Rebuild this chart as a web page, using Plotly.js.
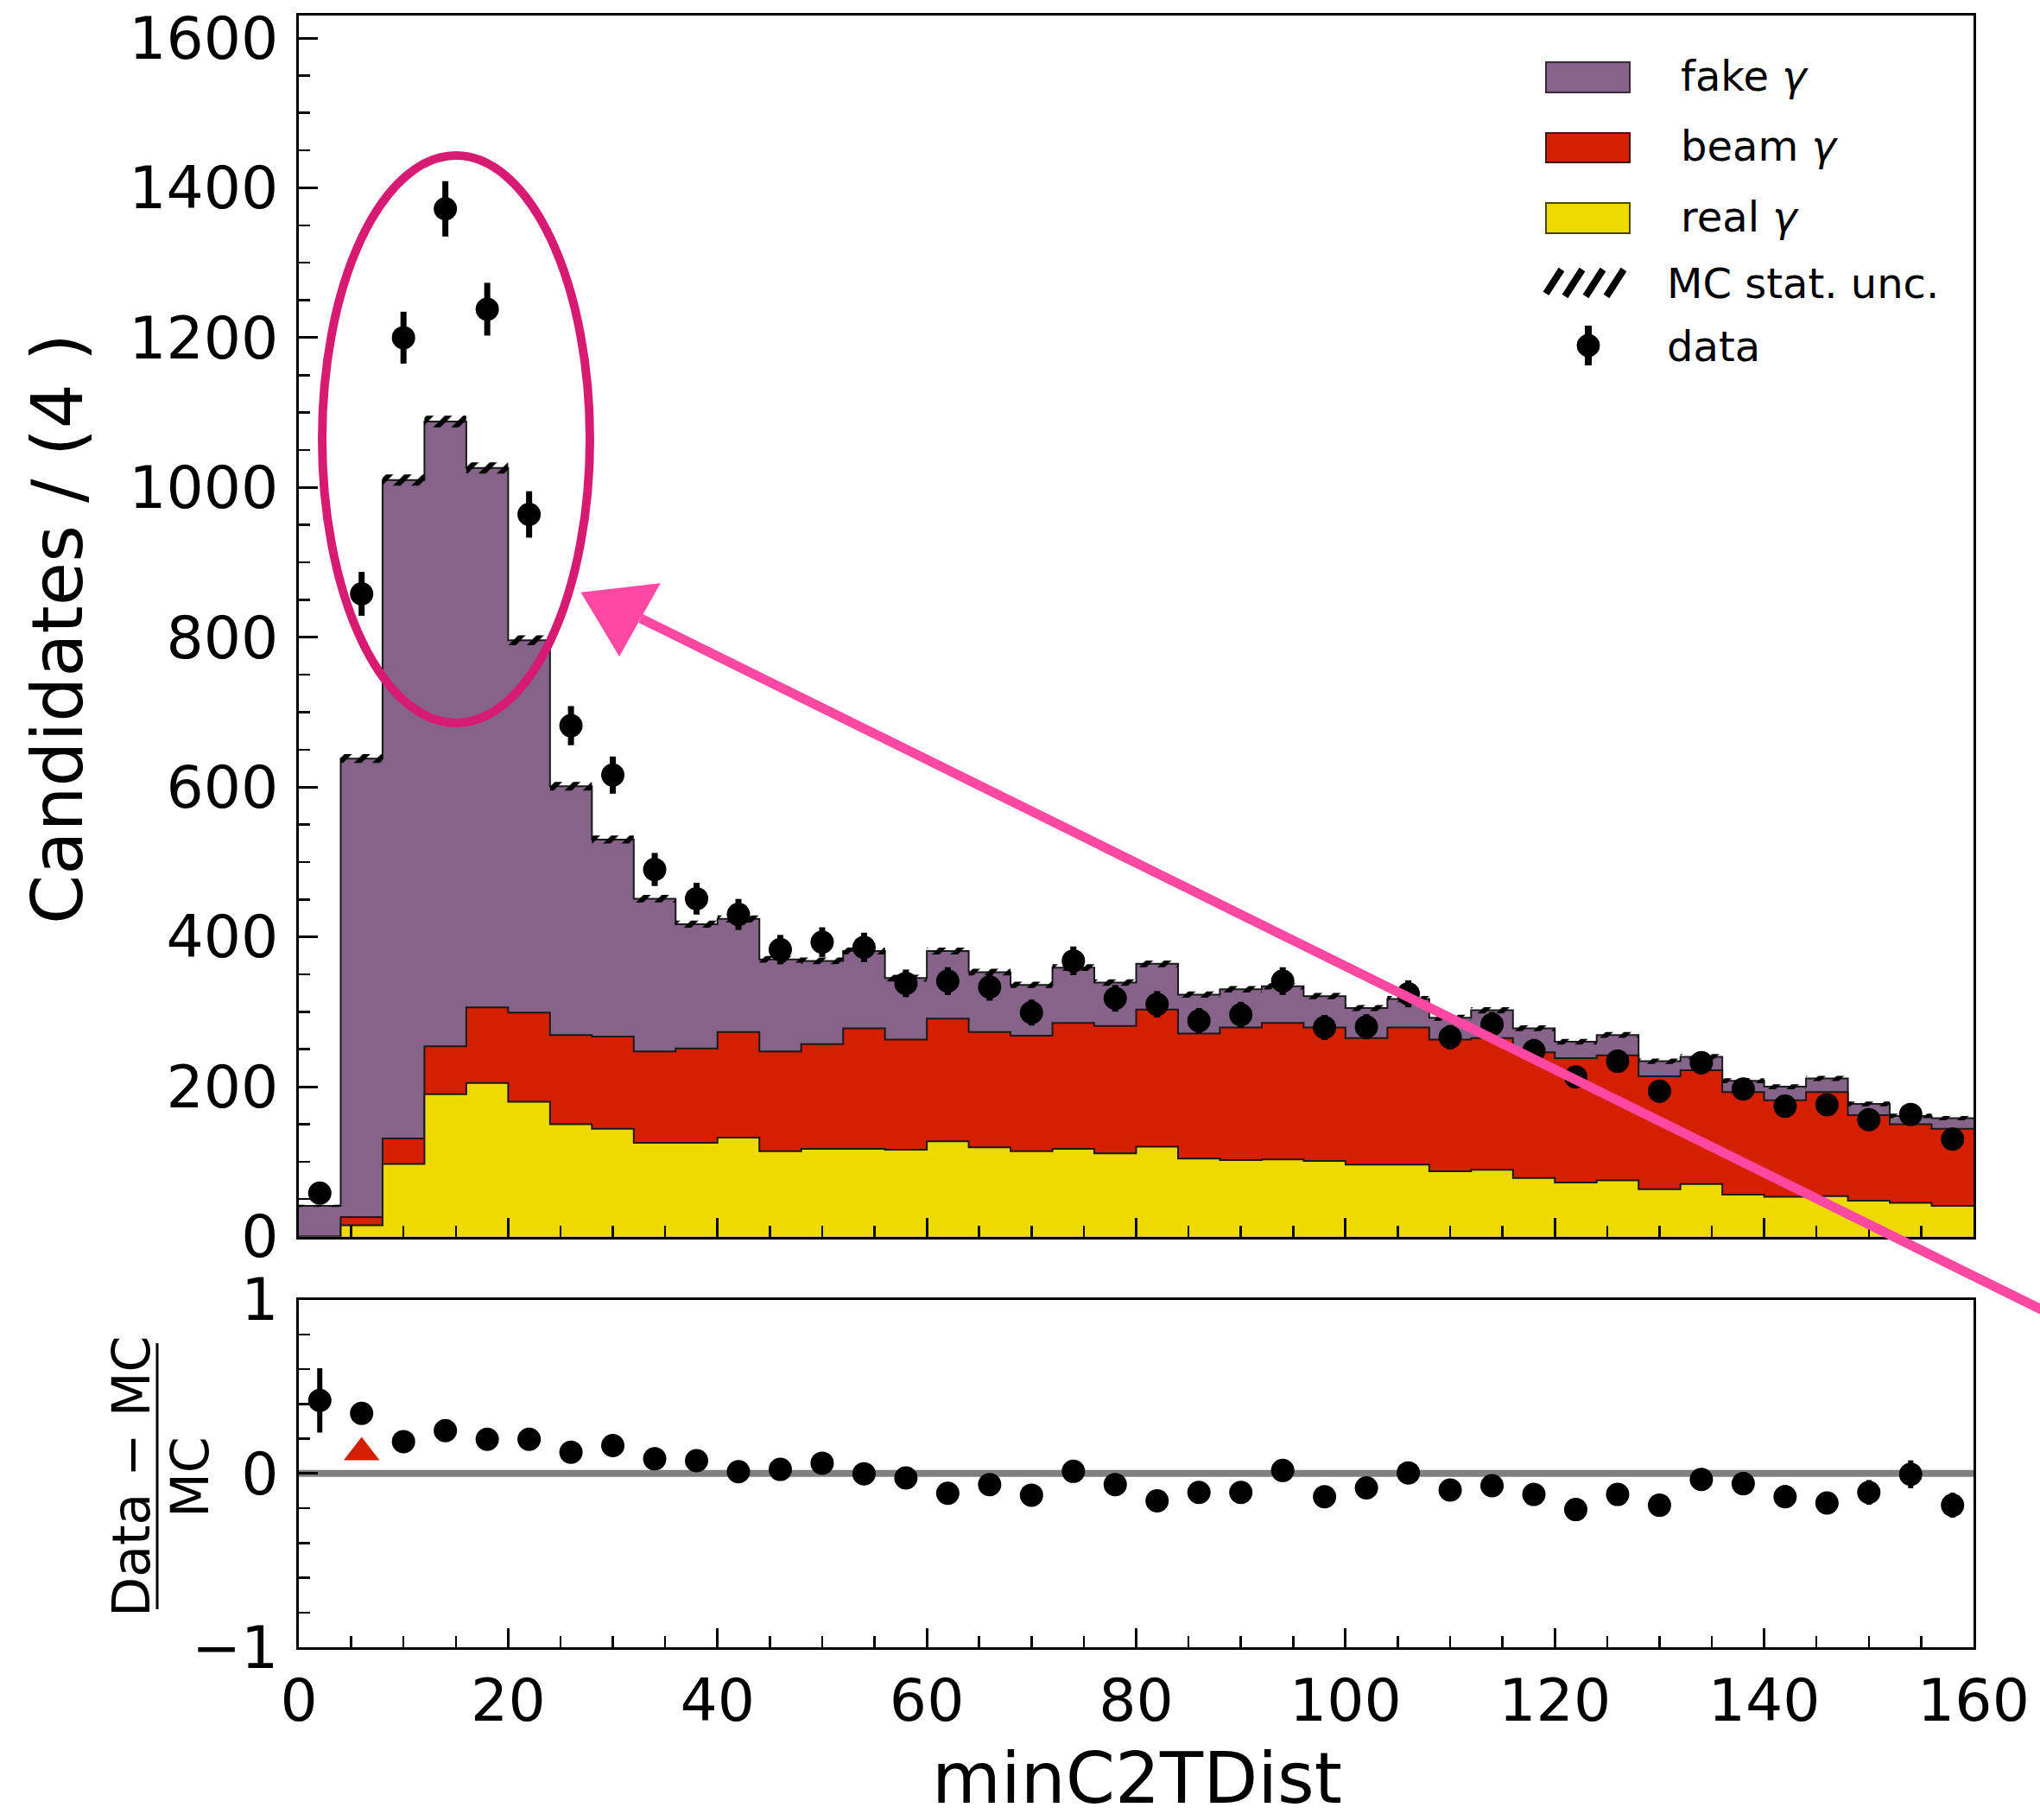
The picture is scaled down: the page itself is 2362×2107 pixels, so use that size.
<!DOCTYPE html>
<html><head><meta charset="utf-8">
<script src="https://cdn.plot.ly/plotly-3.0.1.min.js"></script>
<style>html,body{margin:0;padding:0;background:#fff}#chart{width:2362px;height:2107px}</style>
</head><body><div id="chart"></div>
<script>
// ---------------- data ----------------
const binEdges = [0,4,8,12,16,20,24,28,32,36,40,44,48,52,56,60,64,68,72,76,80,84,88,92,96,100,104,108,112,116,120,124,128,132,136,140,144,148,152,156,160];
const binCenters = [2,6,10,14,18,22,26,30,34,38,42,46,50,54,58,62,66,70,74,78,82,86,90,94,98,102,106,110,114,118,122,126,130,134,138,142,146,150,154,158];
const realGamma = [0,15,97,190,205,180,150,144,125,125,132,114,117,117,116,127,119,114,117,111,120,104,102,103,101,96,96,87,89,78,72,75,63,70,56,53,54,48,45,41];
const beamGamma = [0,11,34,64,101,119,119,123,122,126,141,133,140,161,147,164,154,154,168,170,183,167,177,182,178,169,183,176,176,168,166,167,151,152,137,129,139,114,105,103];
const fakeGamma = [41,612,879,834,720,497,332,263,204,166,151,123,111,103,82,90,80,68,74,58,61,52,51,49,42,40,38,29,37,32,22,27,20,18,15,18,18,15,11,14];
const mcStatErr = [1.5,5.9,7.5,7.8,7.5,6.6,5.8,5.4,5.0,4.8,4.8,4.5,4.5,4.6,4.4,4.6,4.4,4.3,4.5,4.3,4.5,4.2,4.3,4.3,4.2,4.1,4.2,4.0,4.1,3.9,3.8,3.9,3.6,3.6,3.4,3.3,3.4,3.1,3.0,3.0];
const dataCounts = [58,858,1200,1372,1238,964,682,616,490,451,430,383,393,386,338,341,333,299,368,318,310,288,296,341,279,280,324,266,283,248,213,234,194,232,197,174,176,156,163,130];
const dataErr = [7.6,29.3,34.6,37.0,35.2,31.0,26.1,24.8,22.1,21.2,20.7,19.6,19.8,19.6,18.4,18.5,18.2,17.3,19.2,17.8,17.6,17.0,17.2,18.5,16.7,16.7,18.0,16.3,16.8,15.7,14.6,15.3,13.9,15.2,14.0,13.2,13.3,12.5,12.8,11.4];
const ratioVals = [0.42,0.345,0.183,0.246,0.196,0.196,0.122,0.160,0.084,0.073,0.010,0.023,0.059,-0.002,-0.026,-0.114,-0.064,-0.125,0.012,-0.064,-0.158,-0.109,-0.109,0.017,-0.134,-0.083,0.003,-0.096,-0.071,-0.121,-0.208,-0.121,-0.183,-0.035,-0.059,-0.134,-0.170,-0.109,-0.005,-0.183];
const ratioErr = [0.185,0.046,0.034,0.034,0.034,0.039,0.043,0.047,0.049,0.051,0.049,0.053,0.054,0.051,0.053,0.049,0.052,0.051,0.053,0.053,0.048,0.053,0.052,0.055,0.052,0.055,0.057,0.056,0.056,0.056,0.056,0.057,0.059,0.063,0.067,0.066,0.063,0.071,0.080,0.072];
const markerX = [6];
const markerY = [0.12];
const xTickVals = [0,20,40,60,80,100,120,140,160];
const yTickVals = [0,200,400,600,800,1000,1200,1400,1600];
const ratioTickVals = [-1,0,1];
const ratioTickText = ['\u22121','0','1'];
const legendLabels = ['fake <i>\u03b3</i>','beam <i>\u03b3</i>','real <i>\u03b3</i>','MC stat. unc.','data'];

// ---------------- derived stacks ----------------
const realTop = realGamma.slice();
const beamTop = realGamma.map((v,i)=>v+beamGamma[i]);
const totalTop = beamTop.map((v,i)=>v+fakeGamma[i]);
const bandLo = totalTop.map((v,i)=>v-mcStatErr[i]);
const bandHi = totalTop.map((v,i)=>v+mcStatErr[i]);
const stepY = a => a.concat([a[a.length-1]]);

// ---------------- style ----------------
const FONT = 'DejaVu Sans, Liberation Sans, sans-serif';
const C_FAKE = '#866489', C_BEAM = '#d41f00', C_REAL = '#eed900';
const W = 2362, H = 2107, ML = 346, MR = 77, MT = 18, MB = 200;
const PW = W-ML-MR, PH = H-MT-MB;
const px = x => (x-ML)/PW;
const py = y => (H-MB-y)/PH;

function stepTrace(y, color){
  return {type:'scatter', mode:'lines', x:binEdges, y:stepY(y), xaxis:'x', yaxis:'y',
    line:{shape:'hv', color:'#1a1a1a', width:2}, fill:'tozeroy', fillcolor:color,
    hoverinfo:'skip', showlegend:false};
}

const traces = [
  stepTrace(totalTop, C_FAKE),
  stepTrace(beamTop, C_BEAM),
  stepTrace(realTop, C_REAL),
  {type:'scatter', mode:'lines', x:binEdges, y:stepY(bandLo), xaxis:'x', yaxis:'y',
   line:{shape:'hv', width:0}, hoverinfo:'skip', showlegend:false},
  {type:'scatter', mode:'lines', x:binEdges, y:stepY(bandHi), xaxis:'x', yaxis:'y',
   line:{shape:'hv', width:0}, fill:'tonexty', fillcolor:'rgba(0,0,0,0)',
   fillpattern:{shape:'/', fgcolor:'#000', bgcolor:'rgba(0,0,0,0)', size:15, solidity:0.4},
   hoverinfo:'skip', showlegend:false},
  {type:'scatter', mode:'markers', x:binCenters, y:dataCounts, xaxis:'x', yaxis:'y',
   marker:{color:'#000', size:27},
   error_y:{type:'data', array:dataErr, visible:true, color:'#000', thickness:7, width:0},
   showlegend:false},
  {type:'scatter', mode:'markers', x:binCenters, y:ratioVals, xaxis:'x2', yaxis:'y2',
   marker:{color:'#000', size:27},
   error_y:{type:'data', array:ratioErr, visible:true, color:'#000', thickness:6, width:0},
   showlegend:false},
  {type:'scatter', mode:'markers', x:markerX, y:markerY, xaxis:'x2', yaxis:'y2',
   marker:{color:'#d52000', size:36, symbol:'triangle-up'}, showlegend:false}
];

const axBase = {showline:true, linewidth:3, linecolor:'#000', mirror:true, showgrid:false, zeroline:false,
  ticks:'inside', ticklen:22, tickwidth:3, tickcolor:'#000',
  tickfont:{family:FONT, size:68, color:'#000'}};

const shapes = [
  {type:'line', xref:'x2', yref:'y2', x0:0, x1:160, y0:0, y1:0, line:{color:'#808080', width:8}, layer:'below'},
  // fraction bar of the ratio axis title
  {type:'line', xref:'paper', yref:'paper', x0:px(182), x1:px(182), y0:py(1555), y1:py(1863), line:{color:'#000', width:3}},
  // legend patches
  {type:'rect', xref:'paper', yref:'paper', x0:px(1790), x1:px(1887), y0:py(72), y1:py(107), fillcolor:C_FAKE, line:{color:'#3a2a3a', width:2}},
  {type:'rect', xref:'paper', yref:'paper', x0:px(1790), x1:px(1887), y0:py(154), y1:py(188), fillcolor:C_BEAM, line:{color:'#3a1a10', width:2}},
  {type:'rect', xref:'paper', yref:'paper', x0:px(1790), x1:px(1887), y0:py(235), y1:py(270), fillcolor:C_REAL, line:{color:'#4a4410', width:2}},
  // legend data marker
  {type:'line', xref:'paper', yref:'paper', x0:px(1839), x1:px(1839), y0:py(377), y1:py(423), line:{color:'#000', width:8}},
  {type:'circle', xref:'paper', yref:'paper', x0:px(1826), x1:px(1852), y0:py(387), y1:py(413), fillcolor:'#000', line:{color:'#000', width:1}},
  // hand-drawn highlight: ellipse + arrow
  {type:'circle', xref:'paper', yref:'paper', x0:px(373), x1:px(683), y0:py(180), y1:py(837), line:{color:'#d81b72', width:10}},
  {type:'line', xref:'paper', yref:'paper', x0:px(2400), y0:py(1534), x1:px(742), y1:py(716), line:{color:'#ff48a2', width:11}},
  {type:'path', xref:'paper', yref:'paper',
   path:`M${px(675)},${py(687)} L${px(762)},${py(677)} L${px(717)},${py(757)} Z`,
   fillcolor:'#ff48a2', line:{color:'#ff48a2', width:3}}
];
// hatch stripes of the "MC stat. unc." legend patch
(function(){
  const x0=1790, x1=1886, yb=343, yt=312, dx=20;
  for(let i=-1;i<5;i++){
    const start = x0+24*i-2;
    let xa=start, xb=start+dx, ya=yb, yb2=yt;
    if(xa<x0){ ya = yb - (x0-start)/dx*(yb-yt); xa=x0; }
    if(xb>x1){ yb2 = yb - (x1-start)/dx*(yb-yt); xb=x1; }
    if(xb-xa<7) continue;
    shapes.push({type:'line', xref:'paper', yref:'paper', x0:px(xa), y0:py(ya), x1:px(xb), y1:py(yb2), line:{color:'#000', width:8}});
  }
})();

const annFont = s => ({family:FONT, size:s, color:'#000'});
const annotations = [
  {text:'Candidates / (4 )', xref:'paper', yref:'paper', x:px(66), y:py(728), xanchor:'center', yanchor:'middle', textangle:-90, showarrow:false, font:annFont(82)},
  {text:'minC2TDist', xref:'paper', yref:'paper', x:px(1316), y:py(2058), xanchor:'center', yanchor:'middle', showarrow:false, font:annFont(82)},
  {text:'Data \u2212 MC', xref:'paper', yref:'paper', x:px(152), y:py(1710), xanchor:'center', yanchor:'middle', textangle:-90, showarrow:false, font:annFont(60)},
  {text:'MC', xref:'paper', yref:'paper', x:px(220), y:py(1710), xanchor:'center', yanchor:'middle', textangle:-90, showarrow:false, font:annFont(60)},
  {text:legendLabels[0], xref:'paper', yref:'paper', x:px(1944), y:py(88), xanchor:'left', yanchor:'middle', showarrow:false, font:annFont(48)},
  {text:legendLabels[1], xref:'paper', yref:'paper', x:px(1944), y:py(169), xanchor:'left', yanchor:'middle', showarrow:false, font:annFont(48)},
  {text:legendLabels[2], xref:'paper', yref:'paper', x:px(1944), y:py(251), xanchor:'left', yanchor:'middle', showarrow:false, font:annFont(48)},
  {text:legendLabels[3], xref:'paper', yref:'paper', x:px(1928), y:py(328), xanchor:'left', yanchor:'middle', showarrow:false, font:annFont(48)},
  {text:legendLabels[4], xref:'paper', yref:'paper', x:px(1928), y:py(401), xanchor:'left', yanchor:'middle', showarrow:false, font:annFont(48)}
];

const layout = {
  width:W, height:H, margin:{l:ML, r:MR, t:MT, b:MB, pad:0},
  paper_bgcolor:'#fff', plot_bgcolor:'rgba(0,0,0,0)', showlegend:false,
  font:{family:FONT, color:'#000'},
  xaxis:Object.assign({}, axBase, {domain:[0,1], anchor:'y', range:[0,160], tickvals:xTickVals, showticklabels:false,
    minor:{dtick:5, tick0:0, ticks:'inside', ticklen:13, tickwidth:2.5, tickcolor:'#000'}}),
  yaxis:Object.assign({}, axBase, {domain:[py(1431.5),1], anchor:'x', range:[0,1630], tickvals:yTickVals, ticklabelstandoff:7,
    minor:{dtick:50, tick0:0, ticks:'inside', ticklen:13, tickwidth:2.5, tickcolor:'#000'}}),
  xaxis2:Object.assign({}, axBase, {domain:[0,1], anchor:'y2', range:[0,160], tickvals:xTickVals, ticklabelstandoff:0,
    minor:{dtick:5, tick0:0, ticks:'inside', ticklen:13, tickwidth:2.5, tickcolor:'#000'}}),
  yaxis2:Object.assign({}, axBase, {domain:[0,py(1504.5)], anchor:'x2', range:[-1,1], tickvals:ratioTickVals, ticktext:ratioTickText, ticklabelstandoff:7,
    minor:{dtick:0.2, tick0:0, ticks:'inside', ticklen:13, tickwidth:2.5, tickcolor:'#000'}}),
  shapes:shapes, annotations:annotations
};

Plotly.newPlot('chart', traces, layout, {displayModeBar:false, staticPlot:true});
</script></body></html>
